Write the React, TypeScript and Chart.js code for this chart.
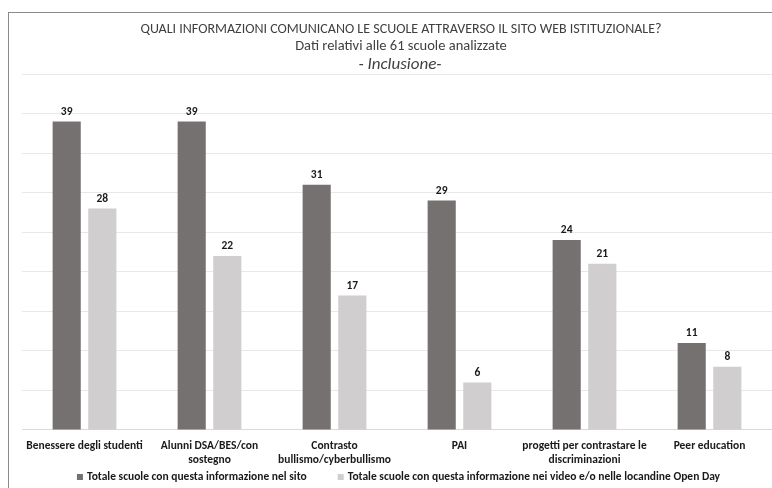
import React, { useEffect, useRef } from "react";
import { Chart, registerables } from "chart.js";

Chart.register(...registerables);

const categories: string[][] = [
  ["Benessere degli studenti"],
  ["Alunni DSA/BES/con", "sostegno"],
  ["Contrasto", "bullismo/cyberbullismo"],
  ["PAI"],
  ["progetti per contrastare le", "discriminazioni"],
  ["Peer education"],
];
const siteValues = [39, 39, 31, 29, 24, 11];
const videoValues = [28, 22, 17, 6, 21, 8];
const seriesNames = [
  "Totale scuole con questa informazione nel sito",
  "Totale scuole con questa informazione nei video e/o nelle locandine Open Day",
];
const titleLines = [
  "QUALI INFORMAZIONI COMUNICANO LE SCUOLE ATTRAVERSO IL SITO WEB ISTITUZIONALE?",
  "Dati relativi alle 61 scuole analizzate",
  "- Inclusione-",
];

const FONT = "Carlito, Lato, 'Open Sans', sans-serif";

const titlePlugin = {
  id: "titles",
  afterDraw(chart: any) {
    const ctx = chart.ctx;
    ctx.save();
    ctx.textAlign = "center";
    ctx.textBaseline = "middle";
    ctx.fillStyle = "#404040";
    ctx.font = `14px ${FONT}`;
    ctx.fillText(titleLines[0], 401, 29);
    ctx.font = `14.5px ${FONT}`;
    ctx.fillText(titleLines[1], 401, 46);
    ctx.font = `italic 17px ${FONT}`;
    ctx.fillText(titleLines[2], 400, 65);
    ctx.restore();
  },
};

const legendPlugin = {
  id: "customLegend",
  afterDraw(chart: any) {
    const ctx = chart.ctx;
    ctx.save();
    ctx.font = `bold 11.5px ${FONT}`;
    ctx.textBaseline = "middle";
    ctx.textAlign = "left";
    const box = 6;
    const gapBox = 4;
    const gapItem = 31;
    const ds = chart.data.datasets;
    const widths = ds.map((d: any) => box + gapBox + ctx.measureText(d.label).width);
    const total = widths.reduce((a: number, b: number) => a + b, 0) + gapItem * (ds.length - 1);
    let x = 398.5 - total / 2;
    const y = 477;
    ds.forEach((d: any, i: number) => {
      ctx.fillStyle = d.backgroundColor;
      ctx.fillRect(x, y - box / 2, box, box);
      ctx.fillStyle = "#1a1a1a";
      ctx.fillText(d.label, x + box + gapBox, y);
      x += widths[i] + gapItem;
    });
    ctx.restore();
  },
};

const labelPlugin = {
  id: "valueLabels",
  afterDatasetsDraw(chart: any) {
    const ctx = chart.ctx;
    ctx.save();
    ctx.textAlign = "center";
    ctx.textBaseline = "bottom";
    ctx.fillStyle = "#1a1a1a";
    ctx.font = `bold 11.5px ${FONT}`;
    chart.data.datasets.forEach((ds: any, i: number) => {
      const meta = chart.getDatasetMeta(i);
      meta.data.forEach((bar: any, j: number) => {
        ctx.fillText(String(ds.data[j]), bar.x, bar.y - 4);
      });
    });
    ctx.restore();
  },
};

export default function App() {
  const ref = useRef<HTMLCanvasElement>(null);
  useEffect(() => {
    const chart = new Chart(ref.current!, {
      type: "bar",
      data: {
        labels: categories,
        datasets: [
          {
            label: seriesNames[0],
            data: siteValues,
            backgroundColor: "#767171",
            categoryPercentage: 0.57,
            barPercentage: 0.79,
          },
          {
            label: seriesNames[1],
            data: videoValues,
            backgroundColor: "#d0cece",
            categoryPercentage: 0.57,
            barPercentage: 0.79,
          },
        ],
      },
      options: {
        responsive: false,
        animation: false,
        layout: { padding: { top: 74, left: 22, right: 0, bottom: 12 } },
        scales: {
          x: {
            grid: { display: false, drawTicks: false },
            border: { display: true, color: "#d9d9d9" },
            ticks: {
              color: "#1a1a1a",
              font: { family: FONT, size: 11.5, weight: "bold", lineHeight: 1.22 },
              padding: 9,
              maxRotation: 0,
              autoSkip: false,
            },
          },
          y: {
            min: 0,
            max: 45,
            ticks: { display: false, stepSize: 5 },
            grid: { color: "#e8e8e8", drawTicks: false },
            border: { display: false },
          },
        },
        plugins: {
          legend: { display: false },
          tooltip: { enabled: false },
        },
      },
      plugins: [titlePlugin, labelPlugin, legendPlugin],
    });
    return () => chart.destroy();
  }, []);
  return (
    <div style={{ position: "fixed", left: 0, top: 0, width: 772, height: 488, overflow: "hidden", background: "#fff" }}>
      <div
        style={{
          position: "absolute",
          left: 8,
          top: 12,
          width: 800,
          height: 500,
          borderLeft: "1px solid #8a8a8a",
          borderTop: "1px solid #8a8a8a",
        }}
      />
      <canvas ref={ref} width={772} height={488} style={{ position: "absolute", left: 0, top: 0 }} />
    </div>
  );
}
